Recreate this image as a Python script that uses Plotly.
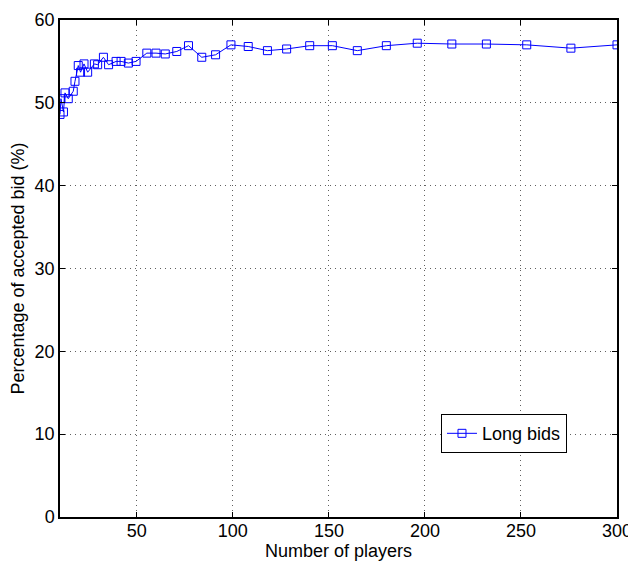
import plotly.graph_objects as go

players = [10, 10.5, 11.8, 12.6, 14.3, 16.9, 17.8, 19.5, 20.7, 22.5, 24.4, 27.9, 29.6, 32.6,
           35.3, 39.2, 41.8, 45.6, 49.6, 55.2, 60, 64.8, 70.8, 76.9, 83.8, 91, 99, 108,
           118, 128, 140, 151.8, 164.8, 179.9, 196, 214, 232, 253, 276, 300]
accepted = [48.6, 50.5, 48.9, 51.2, 50.5, 51.4, 52.6, 54.5, 53.7, 54.7, 53.7, 54.7, 54.6, 55.5,
            54.6, 55.0, 55.0, 54.8, 55.0, 56.0, 56.0, 55.9, 56.2, 56.9, 55.5, 55.8, 57.0, 56.8,
            56.3, 56.5, 56.9, 56.9, 56.3, 56.9, 57.2, 57.1, 57.1, 57.0, 56.6, 57.0]
x_ticks = [50, 100, 150, 200, 250, 300]
y_ticks = [0, 10, 20, 30, 40, 50, 60]

FONT = "Liberation Sans, Arial, Helvetica, sans-serif"

fig = go.Figure()
fig.add_trace(go.Scatter(
    x=players, y=accepted, mode="lines+markers", name="Long bids",
    line=dict(color="#0000ff", width=1),
    marker=dict(symbol="square-open", size=8, color="#0000ff", line=dict(width=1)),
))

axis_common = dict(
    showline=True, linecolor="black", linewidth=1.5, mirror="ticks",
    ticks="inside", ticklen=5, tickcolor="black", tickwidth=1,
    showgrid=True, gridcolor="#606060", griddash="1px,4px", gridwidth=1,
    zeroline=False, automargin=False,
    tickfont=dict(family=FONT, size=18, color="black"),
)

fig.update_xaxes(range=[10, 300], tickvals=x_ticks, ticklabelstandoff=-3,
                 title=dict(text="Number of players", standoff=0,
                            font=dict(family=FONT, size=18, color="black")),
                 **axis_common)
fig.update_yaxes(range=[0, 60], tickvals=y_ticks,
                 title=dict(text="Percentage of accepted bid (%)", standoff=6,
                            font=dict(family=FONT, size=18, color="black")),
                 **axis_common)

# The page body has an 8px margin, so the figure is sized/margined to compensate.
fig.update_layout(
    width=628, height=553,
    margin=dict(l=52, r=19, t=12, b=44),
    plot_bgcolor="white", paper_bgcolor="white",
    showlegend=True,
    legend=dict(x=0.684, y=0.207, xanchor="left", yanchor="top",
                bgcolor="white", bordercolor="black", borderwidth=1,
                tracegroupgap=0,
                font=dict(family=FONT, size=18, color="black")),
)

fig.write_html("out.html")
